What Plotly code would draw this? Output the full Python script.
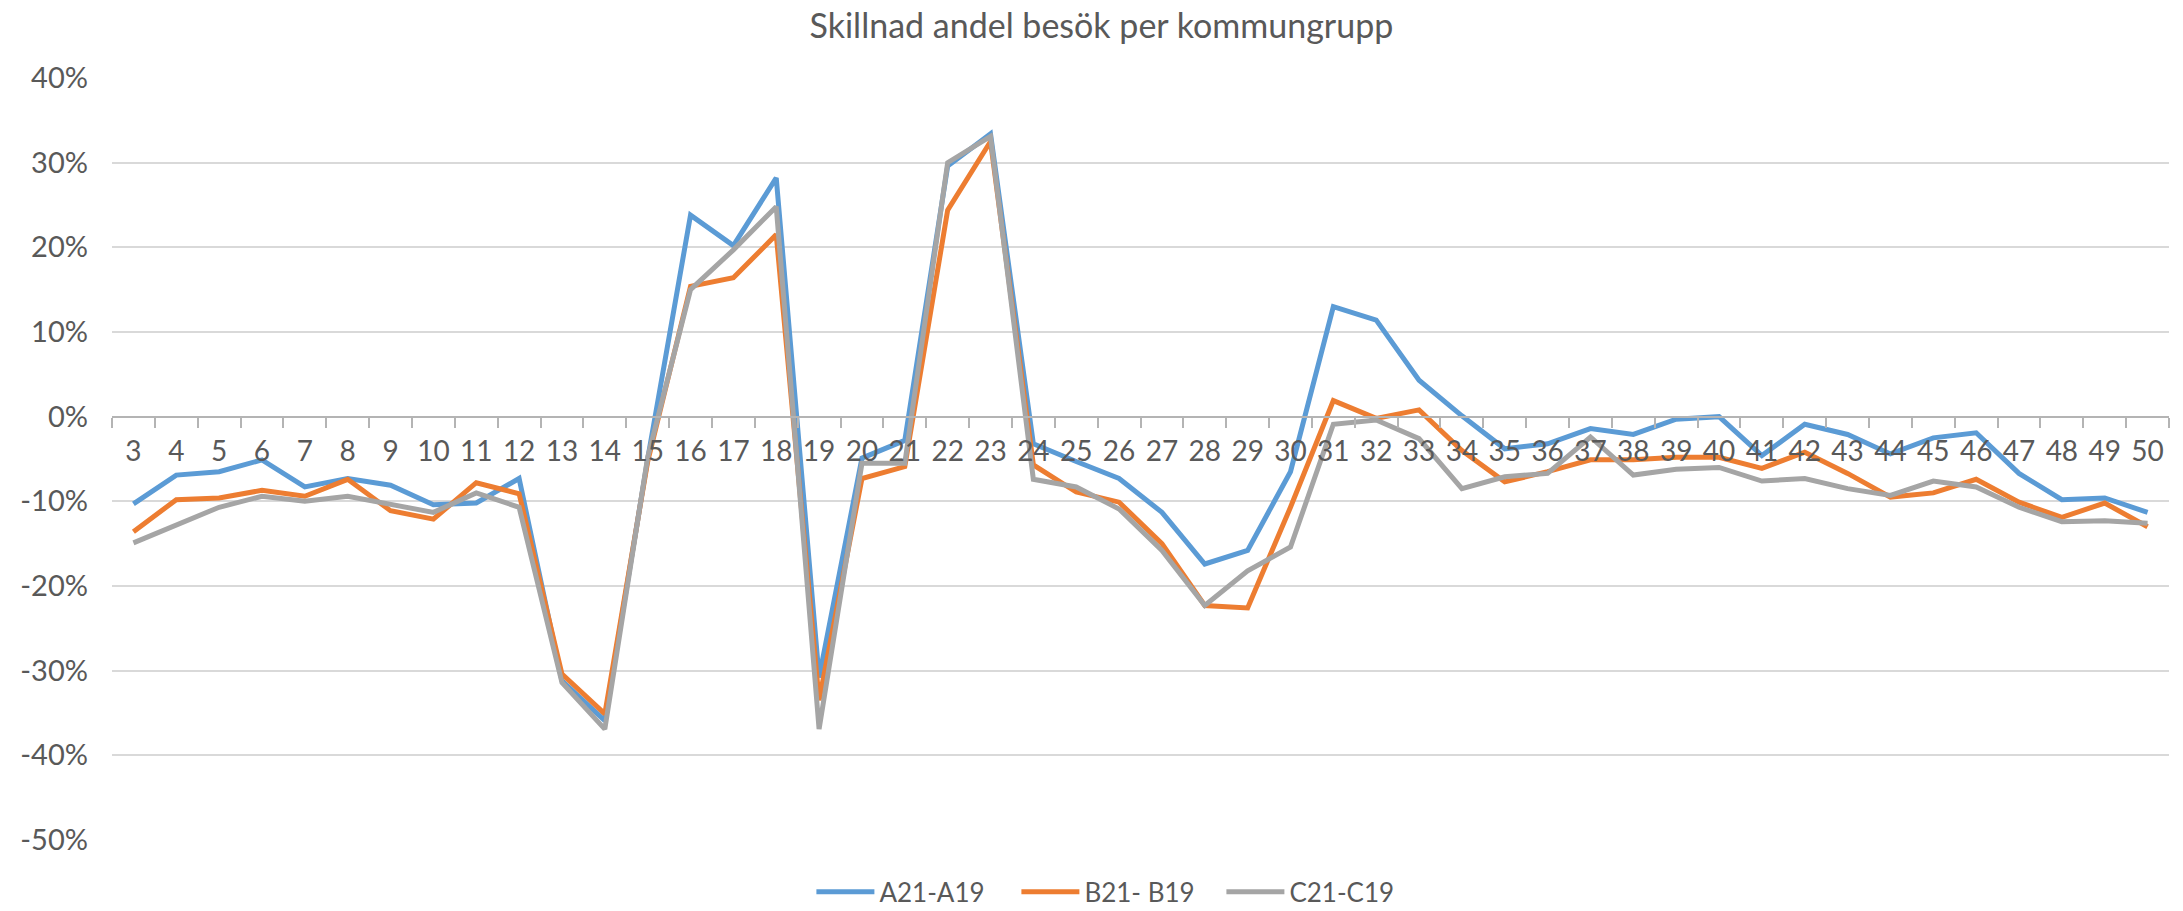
import plotly.graph_objects as go

categories = [str(i) for i in range(3, 51)]

a21_a19 = [-10.3, -6.9, -6.5, -5.1, -8.3, -7.3, -8.1, -10.4, -10.2, -7.3,
           -31.2, -35.9, -5.0, 23.8, 20.2, 28.2, -30.8, -4.9, -2.8, 29.6,
           33.4, -3.2, -5.3, -7.3, -11.3, -17.4, -15.8, -6.5, 13.0, 11.4,
           4.3, 0.1, -3.8, -3.2, -1.4, -2.1, -0.3, 0.0, -4.6, -0.9,
           -2.1, -4.4, -2.5, -1.9, -6.7, -9.8, -9.6, -11.3]

b21_b19 = [-13.6, -9.8, -9.6, -8.7, -9.4, -7.4, -11.1, -12.1, -7.8, -9.1,
           -30.4, -35.1, -5.3, 15.4, 16.4, 21.5, -33.5, -7.3, -5.9, 24.4,
           32.5, -5.7, -8.9, -10.1, -15.0, -22.3, -22.6, -10.7, 1.9, -0.2,
           0.8, -4.0, -7.7, -6.5, -5.1, -5.1, -4.8, -4.8, -6.1, -4.2,
           -6.7, -9.5, -9.0, -7.4, -10.1, -11.9, -10.2, -13.0]

c21_c19 = [-14.9, -12.8, -10.7, -9.4, -10.0, -9.4, -10.4, -11.3, -9.0, -10.7,
           -31.4, -36.9, -4.8, 15.0, 19.7, 24.8, -36.9, -5.5, -5.5, 30.0,
           33.1, -7.4, -8.3, -10.9, -15.8, -22.3, -18.2, -15.4, -0.9, -0.4,
           -2.6, -8.5, -7.1, -6.7, -2.4, -6.9, -6.2, -6.0, -7.6, -7.3,
           -8.5, -9.3, -7.6, -8.3, -10.7, -12.4, -12.3, -12.6]

series_names = ["A21-A19", "B21- B19", "C21-C19"]
series_values = [a21_a19, b21_b19, c21_c19]
series_colors = ["#5B9BD5", "#ED7D31", "#A5A5A5"]

y_ticks = [40, 30, 20, 10, 0, -10, -20, -30, -40, -50]
y_min, y_max = -50, 40

text_color = "#595959"
font_family = "Lato, 'Open Sans', sans-serif"

fig = go.Figure()
for name, vals, col in zip(series_names, series_values, series_colors):
    fig.add_trace(go.Scatter(
        x=categories, y=[v / 100 for v in vals], name=name, mode="lines",
        line=dict(color=col, width=5), hoverinfo="x+y",
    ))

zero_pos = (0 - y_min) / (y_max - y_min)

fig.update_layout(
    width=2183, height=911,
    paper_bgcolor="white", plot_bgcolor="white",
    margin=dict(l=112, r=14, t=78, b=71, autoexpand=False),
    font=dict(family=font_family, size=28, color=text_color),
    title=dict(text="Skillnad andel besök per kommungrupp", x=0.481, xref="paper",
               xanchor="center", y=0.971, yanchor="middle",
               font=dict(size=34, color=text_color)),
    legend=dict(orientation="h", x=0.4895, xanchor="center", y=-0.068, yanchor="middle",
                font=dict(size=26, color=text_color), itemwidth=58,
                entrywidth=132, entrywidthmode="pixels",
                bgcolor="rgba(0,0,0,0)"),
    showlegend=True,
)

fig.update_xaxes(
    type="category", categoryorder="array", categoryarray=categories,
    range=[-0.5, len(categories) - 0.5],
    anchor="free", position=zero_pos, automargin=False,
    showline=True, linecolor="#B4B4B4", linewidth=2,
    ticks="outside", tickson="boundaries", ticklen=10, tickwidth=2, tickcolor="#B4B4B4",
    ticklabelstandoff=10, tickangle=0,
    showgrid=False, zeroline=False,
    tickfont=dict(size=28, color=text_color),
)

fig.update_yaxes(
    range=[y_min / 100, y_max / 100], tickvals=[t / 100 for t in y_ticks],
    ticktext=[f"{t}%" for t in y_ticks], automargin=False,
    showgrid=True, gridcolor="#D9D9D9", gridwidth=2,
    zeroline=False, showline=False, ticks="", ticklabelstandoff=23,
    tickfont=dict(size=29, color=text_color),
)

fig.write_html("out.html", config={"displayModeBar": False},
               post_script="document.body.style.margin='0';")
